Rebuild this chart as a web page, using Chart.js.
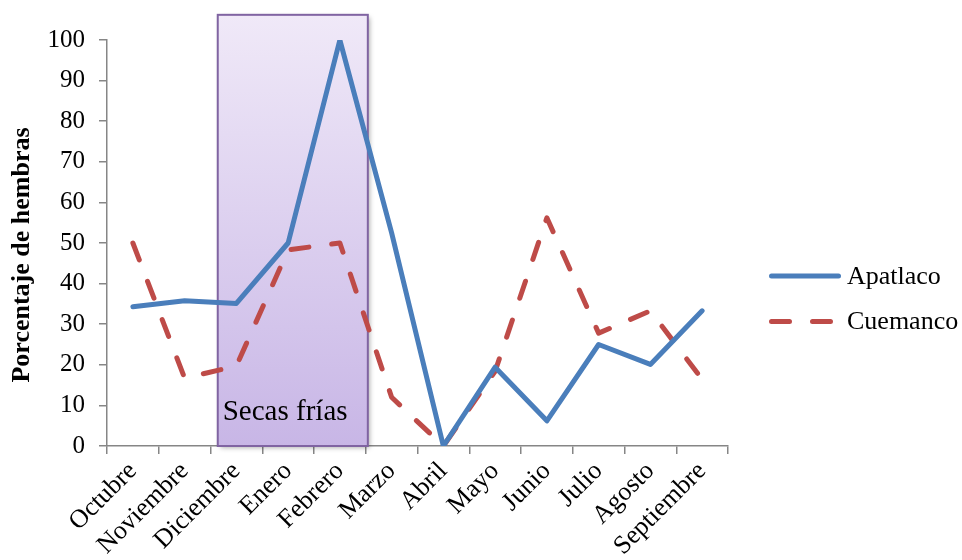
<!DOCTYPE html>
<html>
<head>
<meta charset="utf-8">
<script src="https://cdn.jsdelivr.net/npm/chart.js@4.4.0/dist/chart.umd.min.js"></script>
<style>
html,body{margin:0;padding:0;background:#ffffff;}
#wrap{width:962px;height:560px;position:relative;}
</style>
</head>
<body>
<div id="wrap"><canvas id="c" width="962" height="560"></canvas></div>
<script>
// ---- data ----
const months = ['Octubre','Noviembre','Diciembre','Enero','Febrero','Marzo','Abril','Mayo','Junio','Julio','Agosto','Septiembre'];
const apatlaco = [34.3, 35.8, 35.1, 50, 100, 52.5, 0, 19.4, 6.2, 25, 20.1, 33.3];
const cuemanco = [50, 16.7, 19.7, 48.3, 50, 12, 0, 18.4, 56.2, 27.8, 33.3, 16.4];
const seriesNames = ['Apatlaco', 'Cuemanco'];
const yTitle = 'Porcentaje de hembras';
const yMin = 0, yMax = 100, yStep = 10;
const seasonLabel = 'Secas frías';
const seasonFrom = 1.64, seasonTo = 4.54, seasonTop = 106.2;

const FAMILY = '"Liberation Serif", "Times New Roman", serif';
const AXIS = '#868686';

const bandPlugin = {
  id: 'seasonBand',
  beforeDatasetsDraw(chart) {
    const { ctx, scales: { x, y } } = chart;
    const x0 = x.getPixelForValue(seasonFrom), x1 = x.getPixelForValue(seasonTo);
    const y0 = y.getPixelForValue(seasonTop), y1 = y.getPixelForValue(0);
    ctx.save();
    const g = ctx.createLinearGradient(0, y0, 0, y1);
    g.addColorStop(0, '#F0E9F8');
    g.addColorStop(1, '#C8B6E6');
    ctx.shadowColor = 'rgba(0,0,0,0.35)';
    ctx.shadowBlur = 5; ctx.shadowOffsetX = 2; ctx.shadowOffsetY = 2;
    ctx.fillStyle = g;
    ctx.fillRect(x0, y0, x1 - x0, y1 - y0);
    ctx.shadowColor = 'transparent';
    ctx.strokeStyle = '#8064A2';
    ctx.lineWidth = 2;
    ctx.strokeRect(x0, y0, x1 - x0, y1 - y0);
    ctx.fillStyle = '#000';
    ctx.font = '29px ' + FAMILY;
    ctx.textBaseline = 'alphabetic';
    ctx.textAlign = 'left';
    ctx.fillText(seasonLabel, x0 + 5, y1 - 26);
    ctx.restore();
  }
};

const titlePlugin = {
  id: 'yTitleText',
  afterDraw(chart) {
    const ctx = chart.ctx;
    ctx.save();
    ctx.translate(22, 255);
    ctx.rotate(-Math.PI / 2);
    ctx.fillStyle = '#000';
    ctx.font = 'bold 26px ' + FAMILY;
    ctx.textAlign = 'center';
    ctx.textBaseline = 'middle';
    ctx.fillText(yTitle, 0, 0);
    ctx.restore();
  }
};

const legendPlugin = {
  id: 'sideLegend',
  afterDraw(chart) {
    const ctx = chart.ctx;
    chart.data.datasets.forEach((ds, i) => {
      const yy = 276 + i * 45.5;
      ctx.save();
      ctx.strokeStyle = ds.borderColor;
      ctx.lineWidth = ds.borderWidth;
      ctx.lineCap = 'round';
      ctx.setLineDash(ds.borderDash || []);
      ctx.beginPath();
      ctx.moveTo(771.5, yy);
      ctx.lineTo(838.5, yy);
      ctx.stroke();
      ctx.setLineDash([]);
      ctx.fillStyle = '#000';
      ctx.font = '26px ' + FAMILY;
      ctx.textBaseline = 'middle';
      ctx.textAlign = 'left';
      ctx.fillText(ds.label, 847, yy + 1);
      ctx.restore();
    });
  }
};

new Chart(document.getElementById('c'), {
  type: 'line',
  data: {
    labels: months,
    datasets: [
      { label: seriesNames[0], data: apatlaco, borderColor: '#4A7EBB', backgroundColor: '#4A7EBB',
        borderWidth: 5, pointRadius: 0, tension: 0, borderJoinStyle: 'round', borderCapStyle: 'round', fill: false },
      { label: seriesNames[1], data: cuemanco, borderColor: '#BE4B48', backgroundColor: '#BE4B48',
        borderWidth: 5, pointRadius: 0, tension: 0, borderDash: [18, 23], borderJoinStyle: 'round', borderCapStyle: 'round', fill: false }
    ]
  },
  options: {
    responsive: false,
    animation: false,
    devicePixelRatio: 1,
    layout: { padding: { top: 40, right: 234, left: 0, bottom: 0 } },
    plugins: { legend: { display: false }, tooltip: { enabled: false } },
    scales: {
      x: {
        offset: true,
        grid: { display: true, offset: true, drawOnChartArea: false, drawTicks: true, tickLength: 8, color: AXIS, lineWidth: 1.5 },
        border: { display: true, color: AXIS, width: 1.5 },
        ticks: { minRotation: 45, maxRotation: 45, autoSkip: false, color: '#000', font: { family: FAMILY, size: 26 }, padding: 2 },
        afterFit(s) { s.height = 114; }
      },
      y: {
        min: yMin, max: yMax,
        ticks: { stepSize: yStep, color: '#000', font: { family: FAMILY, size: 25 }, padding: 14 },
        grid: { drawOnChartArea: false, drawTicks: true, tickLength: 8, color: AXIS, lineWidth: 1.5 },
        border: { display: true, color: AXIS, width: 1.5 },
        title: { display: false, text: yTitle },
        afterFit(s) { s.width = 107; }
      }
    }
  },
  plugins: [bandPlugin, titlePlugin, legendPlugin]
});
</script>
</body>
</html>
